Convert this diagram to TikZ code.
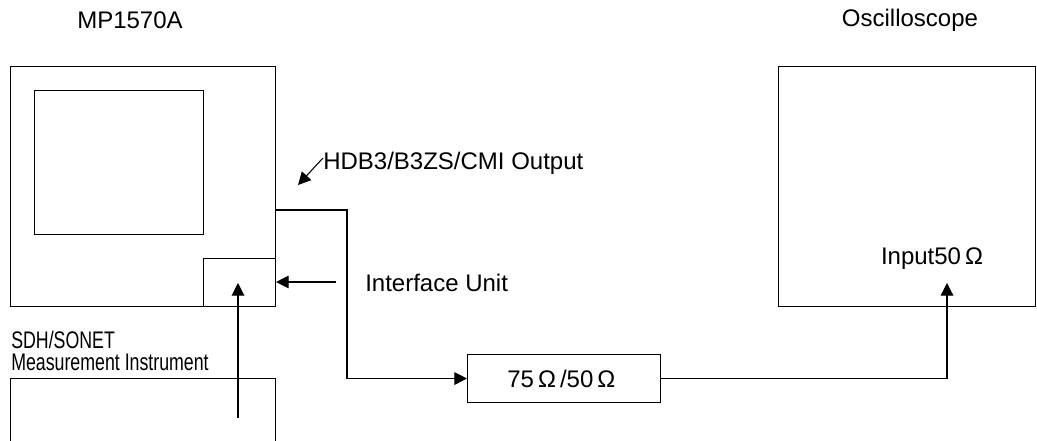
\documentclass[tikz,border=0pt]{standalone}
\usepackage{fontspec}
\setmainfont{Liberation Sans}
\newfontfamily\narrowfont[FakeStretch=0.74]{Liberation Sans}
\usetikzlibrary{arrows.meta}
\tikzset{
  box/.style={draw, line width=0.8pt, inner sep=0pt, anchor=north west},
  arr/.style={line width=0.8pt, -{Triangle[length=9.5pt,width=9.5pt]}},
  lbl/.style={inner sep=0pt, font=\fontsize{18}{21}\selectfont}
}
\begin{document}
\begin{tikzpicture}[x=0.75pt,y=-0.75pt]
\clip (0,0) rectangle (1037,441);
% instruments
\node[box, minimum width=198.75pt, minimum height=180pt] (mp) at (10,66) {};
\node[box, minimum width=126.75pt, minimum height=108pt] (screen) at (34,90) {};
\node[box, minimum width=54pt, minimum height=36pt] (iu) at (203,258) {};
\node[box, minimum width=198.75pt, minimum height=90pt] (sdh) at (10,378) {};
\node[box, minimum width=192.75pt, minimum height=180pt] (osc) at (778,66) {};
\node[box, minimum width=144.75pt, minimum height=36pt] (conv) at (467,354) {};
\node[lbl] (convlbl) at ([xshift=-2pt]conv.center) {75\,Ω\,/50\,Ω};
% labels
\node[lbl] (mplbl) at (130,20) {MP1570A};
\node[lbl] (osclbl) at (910,20) {Oscilloscope};
\node[lbl, anchor=west] (hdb) at (323,163) {HDB3/B3ZS/CMI Output};
\node[lbl, anchor=west] (iulbl) at (365,283) {Interface Unit};
\node[lbl] (inlbl) at (932,259) {Input50\,Ω};
\node[inner sep=0pt, anchor=base west, align=left,
      font=\narrowfont\fontsize{18}{16.5}\selectfont] (sdhlbl) at (11,370)
  {SDH/SONET\\Measurement Instrument};
% connectors
\coordinate (out) at (275,210);
\coordinate (bend) at (347,210);
\coordinate (inp) at (947,283);
\coordinate (hdbtail) at (323,158);
\coordinate (hdbtip) at (298,185);
\coordinate (iutail) at (336,282);
\coordinate (sdhout) at (238,418);
\coordinate (iuin) at (238,283);
\draw[arr] (out) -- (bend) |- (conv.west);
\draw[arr] (conv.east) -| (inp);
\draw[arr] (hdbtail) -- (hdbtip);
\draw[arr] (iutail) -- (iu.east |- iutail);
\draw[arr] (sdhout) -- (iuin);
\end{tikzpicture}
\end{document}
